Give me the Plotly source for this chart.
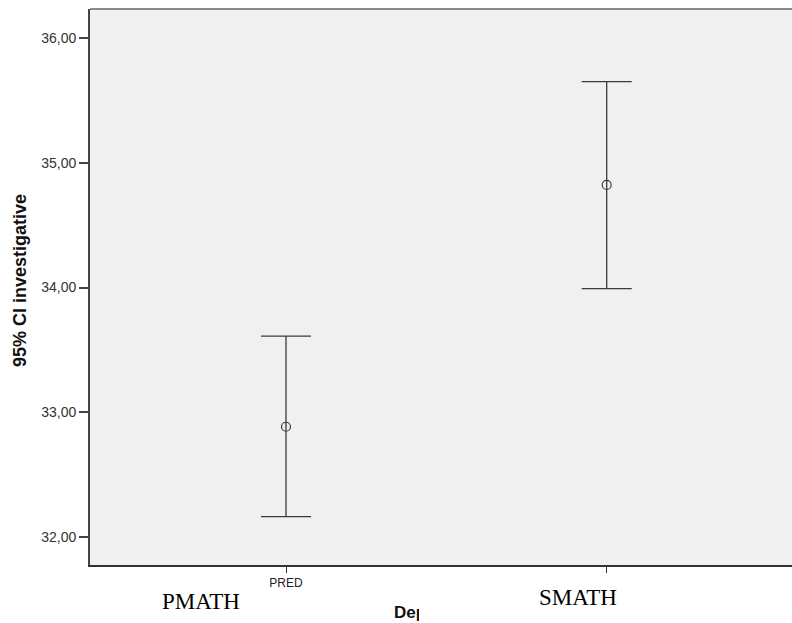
import plotly.graph_objects as go

# Data
categories = ["PRED", "SMATH"]
tick_labels = ["PRED", ""]
means = [32.884, 34.822]
upper = [33.611, 35.650]
lower = [32.163, 33.991]
y_ticks = [32, 33, 34, 35, 36]

W, H = 810, 623
L, R, T, B = 90, 0, 9, 58
PW, PH = W - L - R, H - T - B

def px(xp):
    return (xp - L) / PW

def py(yp):
    return (H - B - yp) / PH

err_plus = [u - m for u, m in zip(upper, means)]
err_minus = [m - l for m, l in zip(means, lower)]

# x positions in pixels -> data range: category 0 at 286 px, category 1 at 606.7 px
x0_px, x1_px = 286.0, 606.7
step = x1_px - x0_px
x_range = [(L - x0_px) / step, (W - x0_px) / step]

line_col = "#3a3a3a"
fig = go.Figure()
fig.add_trace(go.Scatter(
    x=[0, 1], y=means, mode="markers",
    marker=dict(symbol="circle-open", size=9, color=line_col, line=dict(width=1.2)),
    error_y=dict(type="data", symmetric=False, array=err_plus, arrayminus=err_minus,
                 color=line_col, thickness=1.3, width=25),
    showlegend=False, hoverinfo="skip",
))

fig.update_layout(
    width=W, height=H,
    margin=dict(l=L, r=R, t=T, b=B, pad=0),
    paper_bgcolor="white", plot_bgcolor="#f0f0f0",
    separators=",.",
    font=dict(family="Arial, Liberation Sans, sans-serif", color="#333333"),
    xaxis=dict(
        range=x_range, tickvals=[0, 1], ticktext=tick_labels,
        showgrid=False, zeroline=False, showline=True, linecolor="#333333", linewidth=1.5,
        ticks="outside", ticklen=6, tickwidth=1.3, tickcolor="#333333",
        tickfont=dict(size=12, color="#222222"),
    ),
    yaxis=dict(
        range=[31.776, 36.232], tickvals=y_ticks, tickformat=".2f",
        showgrid=False, zeroline=False, showline=True, linecolor="#444444", linewidth=1.8,
        ticks="outside", ticklen=9, tickwidth=1.5, tickcolor="#444444",
        tickfont=dict(size=14, color="#333333"),
    ),
    shapes=[
        dict(type="line", xref="paper", yref="paper", x0=0, x1=1, y0=1, y1=1,
             line=dict(color="#8a8a8a", width=2), layer="above"),
    ],
    annotations=[
        dict(text="<b>95% CI investigative</b>", xref="paper", yref="paper",
             x=px(20), y=py(281), textangle=-90, showarrow=False,
             xanchor="center", yanchor="middle",
             font=dict(size=18, color="#111111", family="Arial, Liberation Sans, sans-serif")),
        dict(text="<b>Dept</b>", xref="paper", yref="paper",
             x=px(392), y=py(612), showarrow=False, xanchor="left", yanchor="middle",
             font=dict(size=17, color="#111111", family="Arial, Liberation Sans, sans-serif")),
        dict(text=" ", xref="paper", yref="paper", x=px(419), y=py(575),
             xanchor="left", yanchor="top", showarrow=False,
             width=W - 419 + 5, height=60, bgcolor="white", borderpad=0, borderwidth=0),
        dict(text="SMATH", xref="paper", yref="paper", x=px(578), y=py(597),
             showarrow=False, xanchor="center", yanchor="middle",
             font=dict(size=23, color="#000000", family="Liberation Serif, Times New Roman, serif")),
        dict(text="PMATH", xref="paper", yref="paper", x=px(201), y=py(601),
             showarrow=False, xanchor="center", yanchor="middle",
             font=dict(size=23, color="#000000", family="Liberation Serif, Times New Roman, serif")),
    ],
)

fig.write_html(
    "out.html",
    config={"displayModeBar": False},
    post_script=(
        "document.documentElement.style.overflow='hidden';"
        "document.body.style.margin='0';document.body.style.overflow='hidden';"
    ),
)
